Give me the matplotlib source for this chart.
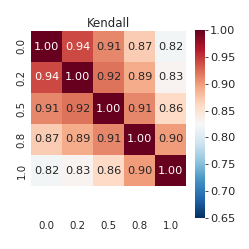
import numpy as np
import matplotlib
matplotlib.use("Agg")
import matplotlib.pyplot as plt
from matplotlib.colors import Normalize

labels = ["0.0", "0.2", "0.5", "0.8", "1.0"]
row0 = [1.00, 0.94, 0.91, 0.87, 0.82]
row1 = [0.94, 1.00, 0.92, 0.89, 0.83]
row2 = [0.91, 0.92, 1.00, 0.91, 0.86]
row3 = [0.87, 0.89, 0.91, 1.00, 0.90]
row4 = [0.82, 0.83, 0.86, 0.90, 1.00]
corr = np.array([row0, row1, row2, row3, row4])
cbar_ticks = [0.65, 0.70, 0.75, 0.80, 0.85, 0.90, 0.95, 1.00]

cmap = plt.get_cmap("RdBu_r")
norm = Normalize(vmin=0.65, vmax=1.0)

fig = plt.figure(figsize=(2.49, 2.49), dpi=100)
ax = fig.add_axes([31 / 249, 31 / 249, 155 / 249, 187 / 249])
cax = fig.add_axes([195 / 249, 31 / 249, 10 / 249, 188 / 249])

n = len(labels)
mesh = ax.pcolormesh(np.arange(n + 1), np.arange(n + 1), corr, cmap=cmap, norm=norm)
ax.set_xlim(0, n)
ax.set_ylim(187 / 31, 0)

for i in range(n):
    for j in range(n):
        r, g, b, _ = cmap(norm(corr[i, j]))
        lum = 0.2126 * r + 0.7152 * g + 0.0722 * b
        color = "#262626" if lum > 0.408 else "white"
        ax.text(j + 0.5, i + 0.5, f"{corr[i, j]:.2f}", ha="center", va="center",
                fontsize=8.2, color=color)

ax.set_xticks(np.arange(n) + 0.5)
ax.set_xticklabels(labels, fontsize=7.4, color="#262626")
ax.set_yticks(np.arange(n) + 0.5)
ax.set_yticklabels(labels, fontsize=7.4, rotation=90, va="center", color="#262626")
ax.tick_params(axis="x", length=0, pad=2)
ax.tick_params(axis="y", length=0, pad=3)
for s in ax.spines.values():
    s.set_visible(False)
ax.set_title("Kendall", fontsize=8.5, color="#262626", pad=3)

cb = fig.colorbar(mesh, cax=cax, ticks=cbar_ticks)
cb.outline.set_visible(False)
cb.ax.tick_params(labelsize=8.2, length=2.5, width=0.6, pad=1, colors="#262626")
cb.ax.set_yticklabels([f"{t:.2f}" for t in cbar_ticks])

fig.savefig("out.png", dpi=100)
